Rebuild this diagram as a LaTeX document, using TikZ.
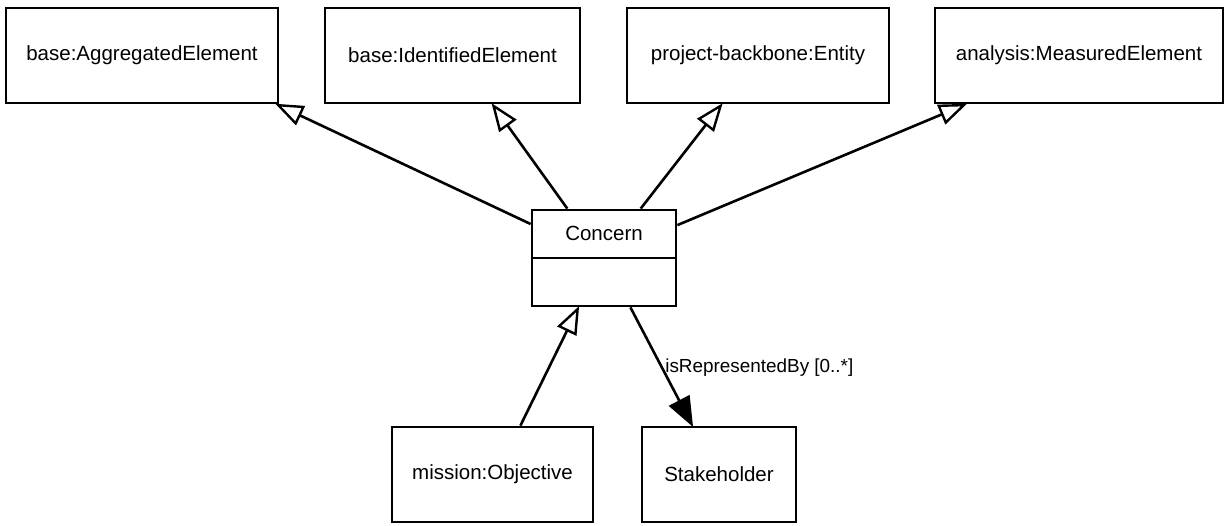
\documentclass[tikz,border=0pt]{standalone}
\usepackage{fontspec}
\setmainfont{Liberation Sans}
\usetikzlibrary{arrows.meta,calc}
\begin{document}
\begin{tikzpicture}[x=1pt,y=-1pt,
  cls/.style={draw=black, line width=2.8pt, rectangle, inner sep=0pt,
    font=\fontsize{20.5}{24}\selectfont, fill=white},
  gen/.style={line width=2.6pt, shorten >=-1.5pt, -{Triangle[open, length=28pt, width=21pt, fill=white, line width=2.4pt]}},
  assoc/.style={line width=2.6pt, shorten >=-1.5pt, -{Triangle[length=30pt, width=23pt]}},
  lbl/.style={font=\fontsize{18.9}{22}\selectfont, inner sep=2pt}
]
\useasboundingbox[fill=white] (0,0) rectangle (1226,525);
\node[cls, minimum width=272pt, minimum height=95pt] (agg) at (142,55.5) {base:AggregatedElement};
\node[cls, minimum width=255pt, minimum height=95pt] (ide) at (452.5,55.5) {base:IdentifiedElement};
\node[cls, minimum width=262pt, minimum height=95pt] (ent) at (758,55.5) {project-backbone:Entity};
\node[cls, minimum width=288pt, minimum height=95pt] (mea) at (1079,55.5) {analysis:MeasuredElement};
\node[cls, minimum width=144pt, minimum height=96pt] (con) at (604,258) {};
\draw[line width=2.8pt] (con.west) -- (con.east);
\node[font=\fontsize{20.5}{24}\selectfont, inner sep=0pt] (contitle) at ($(con.north)!0.5!(con.center)$) {Concern};
\node[cls, minimum width=201pt, minimum height=95pt] (obj) at (492.5,474.5) {mission:Objective};
\node[cls, minimum width=154pt, minimum height=95pt] (sta) at (719,474.5) {Stakeholder};

\draw[gen] ($(con.north west)!0.156!(con.south west)$) -- ($(agg.south west)!0.99!(agg.south east)$);
\draw[gen] ($(con.north west)!0.25!(con.north east)$) -- ($(ide.south west)!0.655!(ide.south east)$);
\draw[gen] ($(con.north west)!0.75!(con.north east)$) -- ($(ent.south west)!0.363!(ent.south east)$);
\draw[gen] ($(con.north east)!0.167!(con.south east)$) -- ($(mea.south west)!0.11!(mea.south east)$);
\draw[gen] ($(obj.north west)!0.637!(obj.north east)$) -- ($(con.south west)!0.326!(con.south east)$);
\draw[assoc] ($(con.south west)!0.68!(con.south east)$) -- node[lbl, pos=0.51, anchor=west] {isRepresentedBy [0..*]} ($(sta.north west)!0.33!(sta.north east)$);
\end{tikzpicture}
\end{document}
